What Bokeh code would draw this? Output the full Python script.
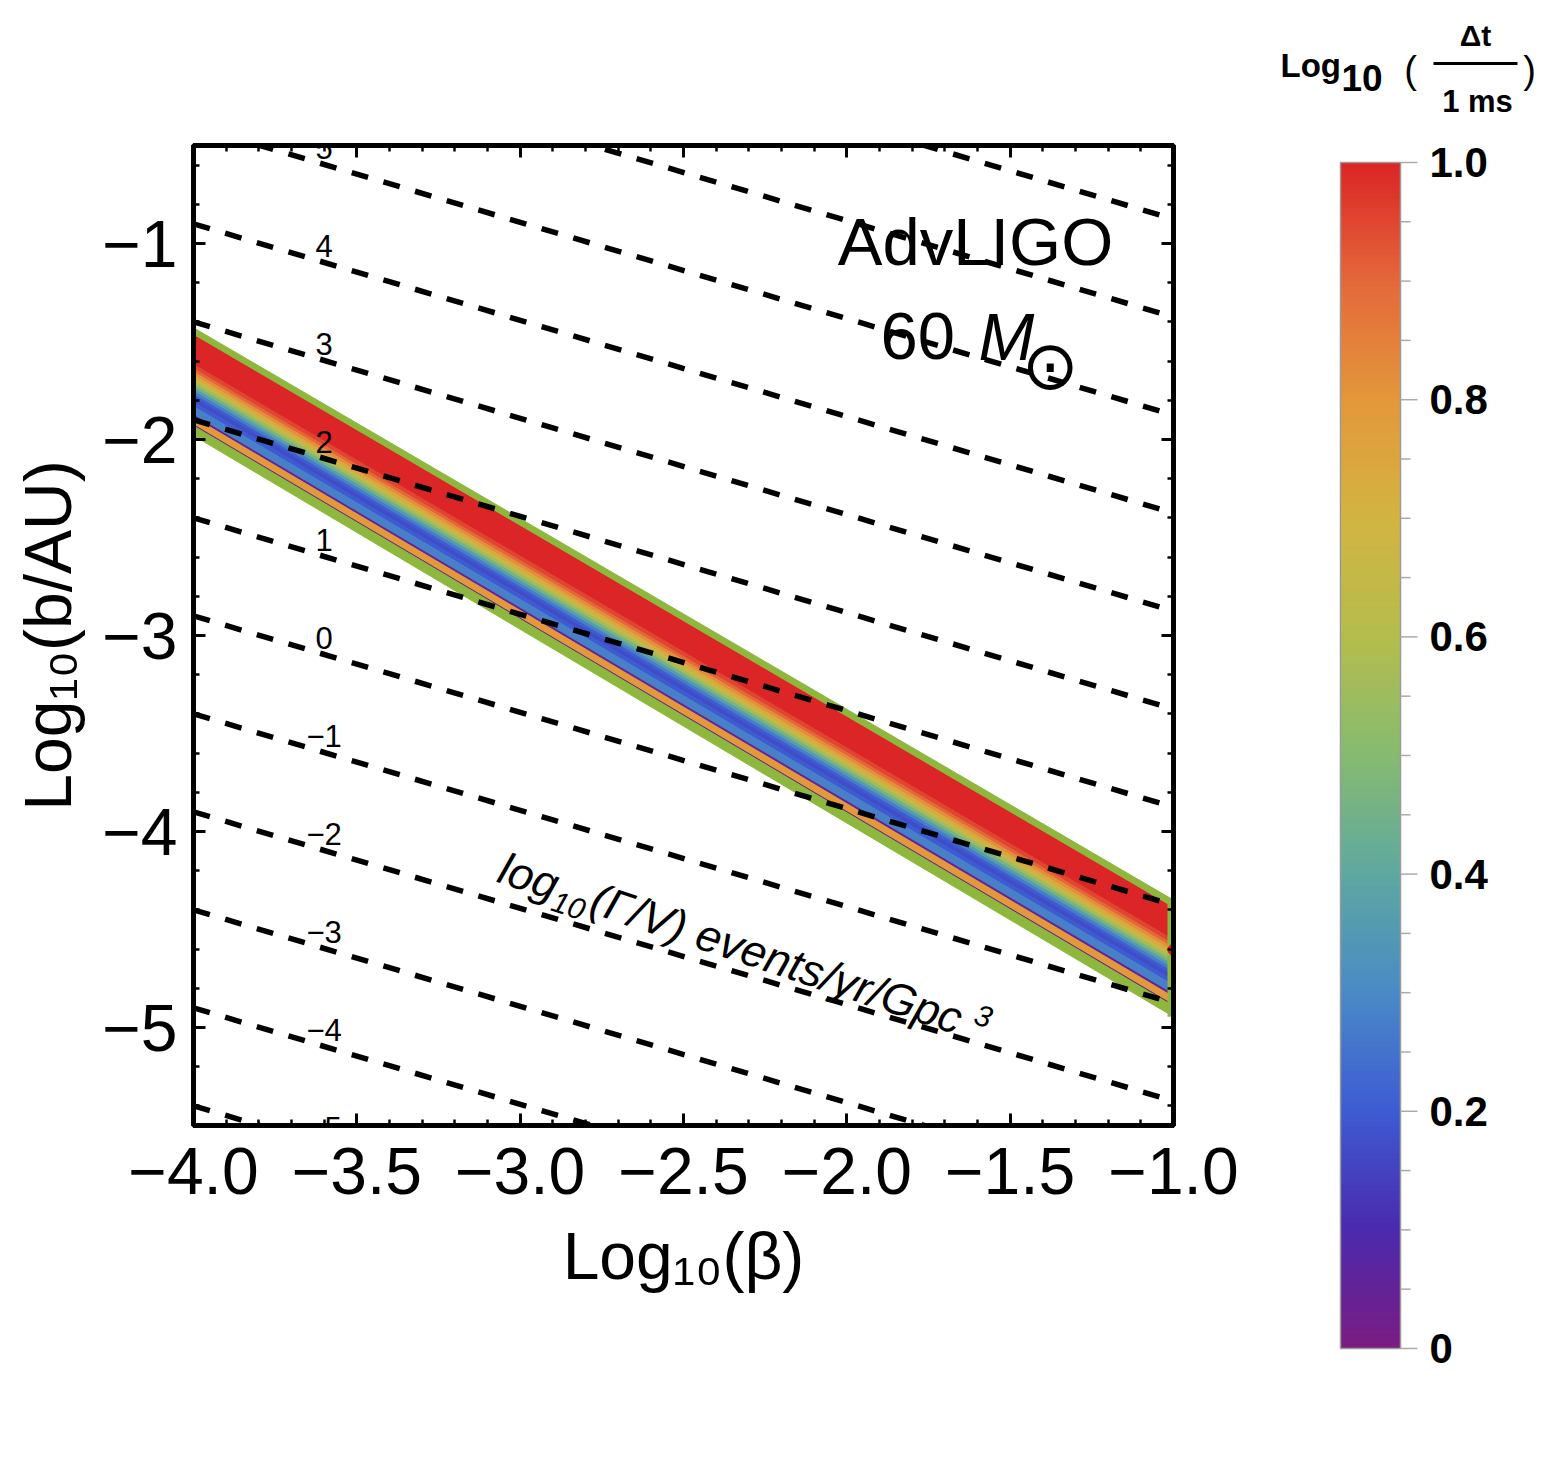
import numpy as np
from bokeh.plotting import figure
from bokeh.models import (Range1d, LinearAxis, SingleIntervalTicker, ColumnDataSource,
                          LinearColorMapper, CustomJSTickFormatter)
from bokeh.layouts import row, column
from bokeh.embed import file_html
from bokeh.resources import INLINE
from bokeh.core.properties import value
from bokeh.transform import linear_cmap

# ---------------------------------------------------------------- data
# Rate contours log10(Gamma/V) [events/yr/Gpc^3]: b at beta = 1e-4 and beta = 1e-1
beta_edges = [-4.0, -1.0]
rate_levels = [-5, -4, -3, -2, -1, 0, 1, 2, 3, 4, 5, 6, 7]
contour_b_lo = [-5.40, -4.90, -4.40, -3.90, -3.40, -2.90, -2.40, -1.90, -1.40, -0.90, -0.40, 0.10, 0.60]
contour_b_hi = [-6.875, -6.375, -5.875, -5.375, -4.875, -4.375, -3.875, -3.375, -2.875, -2.375,
                -1.875, -1.375, -0.875]
labelled_levels = [-5, -4, -3, -2, -1, 0, 1, 2, 3, 4, 5]
label_beta = -3.6

# Detectable region (edges at beta = 1e-4 and 1e-1)
band_upper = [-1.43, -4.35]
band_lower = [-1.98, -4.945]

# log10(dt / 1 ms) across the region, from its upper edge (0) to its lower edge (1)
profile_edges = [0.06, 0.34, 0.38, 0.41, 0.44, 0.47, 0.50, 0.53, 0.56, 0.59, 0.62, 0.65,
                 0.69, 0.73, 0.81, 0.83, 0.90, 0.91]
profile_dt = [1.0, 0.95, 0.90, 0.82, 0.74, 0.66, 0.56, 0.46, 0.36, 0.27, 0.20, 0.17,
              0.20, 0.28, 0.05, 0.80, 0.05]
border_edges = [(0.0, 0.06), (0.91, 1.0)]

marker_beta = [-1.0]
marker_b = [-4.603]

# colour bar
cbar_ticks = [0.0, 0.2, 0.4, 0.6, 0.8, 1.0]
cbar_tick_labels = ["0", "0.2", "0.4", "0.6", "0.8", "1.0"]
cbar_minor = [0.05, 0.1, 0.15, 0.25, 0.3, 0.35, 0.45, 0.5, 0.55, 0.65, 0.7, 0.75, 0.85, 0.9, 0.95]

# rainbow colour scheme
anchor_pos = [0.0, 0.1, 0.2, 0.3, 0.4, 0.5, 0.6, 0.7, 0.8, 0.9, 1.0]
anchor_hex = ["#7a1c82", "#4a2aae", "#3d5cd2", "#4a8ac6", "#5ea8a0", "#86bb70", "#b4bd4c",
              "#d3b442", "#e3983a", "#e4683a", "#db2526"]


def _rgb(h):
    return [int(h[i:i + 2], 16) for i in (1, 3, 5)]


_rgb_arr = np.array([_rgb(h) for h in anchor_hex], float)
palette = ["#%02x%02x%02x" % tuple(int(round(np.interp(t, anchor_pos, _rgb_arr[:, k]))) for k in range(3))
           for t in np.linspace(0, 1, 256)]
mapper = LinearColorMapper(palette=palette, low=0, high=1)

FONT = value("Liberation Sans")
GREEN = "#8db83d"

# ---------------------------------------------------------------- main panel
p = figure(frame_width=980, frame_height=980, x_range=Range1d(-4, -1), y_range=Range1d(-5.5, -0.5),
           output_backend="svg", toolbar_location=None,
           min_border_left=193, min_border_right=67, min_border_top=145, min_border_bottom=315,
           x_axis_label="Log₁₀(β)", y_axis_label="Log₁₀(b/AU)")
p.grid.visible = False
p.outline_line_color = "black"
p.outline_line_width = 5
p.background_fill_color = "white"
p.border_fill_color = "white"


def b_at(edge_lo, edge_hi, frac_beta):
    return edge_lo + (edge_hi - edge_lo) * frac_beta


def band_y(f, side):
    return band_upper[side] + f * (band_lower[side] - band_upper[side])


# coloured region built from strips parallel to its edges
xs, ys, vals = [], [], []
for i, v in enumerate(profile_dt):
    f0, f1 = profile_edges[i], profile_edges[i + 1]
    xs.append([beta_edges[0], beta_edges[1], beta_edges[1], beta_edges[0]])
    ys.append([band_y(f0, 0), band_y(f0, 1), band_y(f1, 1), band_y(f1, 0)])
    vals.append(v)
strip_src = ColumnDataSource(dict(xs=xs, ys=ys, v=vals))
cm = linear_cmap("v", palette, 0, 1)
p.patches("xs", "ys", source=strip_src, fill_color=cm, line_color=cm, line_width=1)

for f0, f1 in border_edges:
    p.patch([beta_edges[0], beta_edges[1], beta_edges[1], beta_edges[0]],
            [band_y(f0, 0), band_y(f0, 1), band_y(f1, 1), band_y(f1, 0)],
            fill_color=GREEN, line_color=GREEN, line_width=1)
p.segment(x0=[beta_edges[1]], y0=[band_lower[1]], x1=[beta_edges[1]], y1=[band_upper[1]],
          line_color=GREEN, line_width=12)

# rate contours
p.segment(x0=[beta_edges[0]] * len(rate_levels), y0=contour_b_lo,
          x1=[beta_edges[1]] * len(rate_levels), y1=contour_b_hi,
          line_color="black", line_width=5.5, line_dash="17 16")

frac = (label_beta - beta_edges[0]) / (beta_edges[1] - beta_edges[0])
lab_y, lab_txt = [], []
for n, lo, hi in zip(rate_levels, contour_b_lo, contour_b_hi):
    if n in labelled_levels:
        lab_y.append(b_at(lo, hi, frac))
        lab_txt.append(("−%d" % -n) if n < 0 else str(n))
p.text(x=[label_beta] * len(lab_y), y=lab_y, text=lab_txt, text_font=FONT,
       text_font_size="31px", text_align="center", text_baseline="middle",
       y_offset=-16, text_color="black")

p.scatter(marker_beta, marker_b, size=11, color="#ee1111")

# in-panel annotations
p.text(x=[-1.606], y=[-0.99], text=["AdvLIGO"], text_font=FONT, text_font_size="67px",
       text_align="center", text_baseline="middle", text_color="black")
p.text(x=[-1.897], y=[-1.474], text=["60"], text_font=FONT, text_font_size="67px",
       text_align="left", text_baseline="middle", text_color="black")
p.text(x=[-1.597], y=[-1.474], text=["M"], text_font=FONT, text_font_size="67px",
       text_font_style="italic", text_align="left", text_baseline="middle", text_color="black")
p.text(x=[-1.377], y=[-1.622], text=["⊙"], text_font=value("DejaVu Sans"), text_font_size="68px",
       text_align="center", text_baseline="middle", text_color="black")

# slanted contour caption (offsets along / across the text direction, in px)
theta = np.deg2rad(18.4)
cap_x, cap_y = -3.0602, -4.18
pieces = [("log", 0, 0, "45px"), ("10", 60, 15.5, "30px"),
          ("(Γ/V) events/yr/Gpc", 97, 0, "45px"), ("3", 497, -10.5, "30px")]
for txt, d, s, fs in pieces:
    p.text(x=[cap_x], y=[cap_y], text=[txt], angle=-theta,
           x_offset=d * np.cos(theta) - s * np.sin(theta),
           y_offset=d * np.sin(theta) + s * np.cos(theta),
           text_font=FONT, text_font_size=fs, text_font_style="italic",
           text_align="left", text_baseline="middle", text_color="black")

# axes
p.xaxis.ticker = SingleIntervalTicker(interval=0.5, num_minor_ticks=5)
p.yaxis.ticker = SingleIntervalTicker(interval=1, num_minor_ticks=5)
p.xaxis.formatter = CustomJSTickFormatter(code="return (tick < 0 ? '\u2212' : '') + Math.abs(tick).toFixed(1);")
p.yaxis.formatter = CustomJSTickFormatter(code="return (tick < 0 ? '\u2212' : '') + Math.abs(tick).toFixed(0);")

for ax in (p.xaxis[0], p.yaxis[0]):
    ax.axis_line_width = 5
    ax.major_tick_in = 12
    ax.major_tick_out = 0
    ax.minor_tick_in = 6
    ax.minor_tick_out = 0
    ax.major_tick_line_width = 3
    ax.minor_tick_line_width = 2.5
    ax.major_label_text_font = "Liberation Sans"
    ax.major_label_text_font_size = "66px"
    ax.major_label_text_color = "black"
    ax.axis_label_text_font = "Liberation Sans"
    ax.axis_label_text_font_size = "66px"
    ax.axis_label_text_font_style = "normal"
    ax.axis_label_text_color = "black"
p.xaxis.major_label_standoff = 22
p.xaxis.axis_label_standoff = 22
p.yaxis.major_label_standoff = 16
p.yaxis.axis_label_standoff = 14

# tick marks on the top and right edges of the frame
for loc, tick in (("right", SingleIntervalTicker(interval=1, num_minor_ticks=5)),
                  ("above", SingleIntervalTicker(interval=0.5, num_minor_ticks=5))):
    ax = LinearAxis(ticker=tick, axis_line_width=5, major_tick_in=12, major_tick_out=0,
                    minor_tick_in=6, minor_tick_out=0, major_tick_line_width=3,
                    minor_tick_line_width=2.5, major_label_standoff=0,
                    formatter=CustomJSTickFormatter(code="return '';"))
    p.add_layout(ax, loc)

# ---------------------------------------------------------------- colour bar panel
cb = figure(width=323, height=1440, x_range=Range1d(0, 323), y_range=Range1d(-0.0776, 1.1366),
            x_axis_type=None, y_axis_type=None, output_backend="svg", toolbar_location=None,
            min_border=0)
cb.grid.visible = False
cb.outline_line_color = None
cb.background_fill_color = "white"
cb.border_fill_color = "white"

cb.image(image=[np.linspace(0, 1, 256).reshape(256, 1)], x=100, y=0, dw=60, dh=1, color_mapper=mapper)
cb.quad(left=[100], right=[160], bottom=[0], top=[1], fill_color=None, line_color="#9a9a9a", line_width=1.5)
cb.segment(x0=[160] * len(cbar_ticks), y0=cbar_ticks, x1=[177] * len(cbar_ticks), y1=cbar_ticks,
           line_color="#aaaaaa", line_width=1.5)
cb.segment(x0=[160] * len(cbar_minor), y0=cbar_minor, x1=[170] * len(cbar_minor), y1=cbar_minor,
           line_color="#aaaaaa", line_width=1.5)
cb.text(x=[189] * len(cbar_ticks), y=cbar_ticks, text=cbar_tick_labels, text_font=FONT,
        text_font_size="42px", text_font_style="bold", text_align="left", text_baseline="middle",
        text_color="black")

# colour bar title: Log10(dt / 1 ms)
cb.text(x=[40], y=[1.0818], text=["Log"], text_font=FONT, text_font_size="33px",
        text_font_style="bold", text_align="left", text_baseline="middle", text_color="black")
cb.text(x=[101], y=[1.0715], text=["10"], text_font=FONT, text_font_size="37px",
        text_font_style="bold", text_align="left", text_baseline="middle", text_color="black")
cb.text(x=[170], y=[1.0776], text=["("], text_font=FONT, text_font_size="38px",
        text_align="center", text_baseline="middle", text_color="black")
cb.text(x=[289], y=[1.0776], text=[")"], text_font=FONT, text_font_size="38px",
        text_align="center", text_baseline="middle", text_color="black")
cb.segment(x0=[193], y0=[1.0835], x1=[277], y1=[1.0835], line_color="black", line_width=3)
cb.text(x=[235], y=[1.1071], text=["Δt"], text_font=FONT, text_font_size="30px",
        text_font_style="bold", text_align="center", text_baseline="middle", text_color="black")
cb.text(x=[237], y=[1.0514], text=["1 ms"], text_font=FONT, text_font_size="31px",
        text_font_style="bold", text_align="center", text_baseline="middle", text_color="black")

layout = row(p, column(cb))
open("out.html", "w").write(file_html(layout, INLINE))
